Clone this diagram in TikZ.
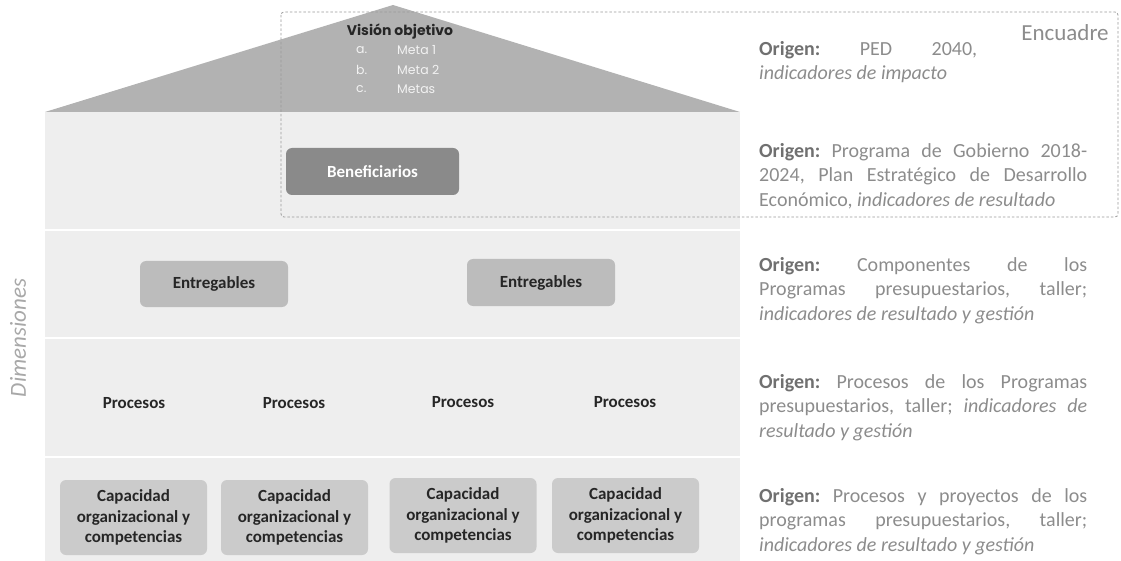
\documentclass[tikz,border=0pt]{standalone}
\usepackage{fontspec}
\setmainfont{Carlito}
\newfontfamily\pop{Poppins}
\frenchspacing
\definecolor{bandgray}{HTML}{EEEEEE}
\definecolor{trigray}{HTML}{B2B2B2}
\definecolor{benefgray}{HTML}{8A8A8A}
\definecolor{entgray}{HTML}{BCBCBC}
\definecolor{capgray}{HTML}{CBCBCB}
\definecolor{txtdark}{HTML}{262626}
\definecolor{txtgray}{HTML}{8C8C8C}
\definecolor{txtbold}{HTML}{707070}
\definecolor{dimgray}{HTML}{A8A8A8}
\definecolor{dashgray}{HTML}{9A9A9A}
\definecolor{metawhite}{HTML}{F2F2F2}
\newcommand{\orig}{\hyphenpenalty=10000\exhyphenpenalty=10000\relax\textcolor{txtbold}{\textbf{Origen:}}}
\tikzset{
  band/.style={fill=bandgray, draw=none},
  gbox/.style={rounded corners=6pt, draw=none, font=\fontsize{17}{20.7}\selectfont\bfseries, text=txtdark, align=center, inner sep=0pt},
  plain/.style={font=\fontsize{17}{20.7}\selectfont\bfseries, text=txtdark, inner sep=0pt},
  origen/.style={anchor=north west, inner sep=0pt, text width=328pt, align=justify, text=txtgray,
    font=\fontsize{20}{24.4}\selectfont},
  metatxt/.style={anchor=west, inner sep=0pt, text=metawhite, font=\pop\fontsize{12.5}{14}\selectfont}
}
\begin{document}
\begin{tikzpicture}[x=1pt,y=-1pt]
\useasboundingbox (0,0) rectangle (1121,561);
% bands
\fill[band] (45,112) rectangle (740,229);
\fill[band] (45,231) rectangle (740,337);
\fill[band] (45,339) rectangle (740,456);
\fill[band] (45,458) rectangle (740,561);
% triangle
\fill[trigray] (45,112) -- (393,5) -- (740,112) -- cycle;
% dashed frame
\draw[dashgray, line width=0.8pt, dash pattern=on 2.5pt off 2pt, rounded corners=3pt] (281,12) rectangle (1118,217);
% vision
\node[font=\pop\fontsize{14}{16}\selectfont\bfseries, text=txtdark, inner sep=0pt] (vis) at (400,32) {Visión objetivo};
\node[metatxt] (ma) at (356,50) {a.};
\node[metatxt] (mb) at (356,70) {b.};
\node[metatxt] (mc) at (356,89) {c.};
\node[metatxt] (m1) at (397,50) {Meta 1};
\node[metatxt] (m2) at (397,70) {Meta 2};
\node[metatxt] (m3) at (397,89) {Metas};
% nodes
\node[gbox, fill=benefgray, text=white, minimum width=173pt, minimum height=47pt] (ben) at (372.5,171.5) {Beneficiarios};
\node[gbox, fill=entgray, minimum width=148pt, minimum height=46pt] (ent1) at (214,284) {Entregables};
\node[gbox, fill=entgray, minimum width=148pt, minimum height=47pt] (ent2) at (541,282.5) {Entregables};
\node[plain] (p1) at (134,403) {Procesos};
\node[plain] (p2) at (294,403) {Procesos};
\node[plain] (p3) at (463,402) {Procesos};
\node[plain] (p4) at (625,402) {Procesos};
\node[gbox, fill=capgray, minimum width=147pt, minimum height=75pt] (c1) at (133.5,517.5) {Capacidad\\organizacional y\\competencias};
\node[gbox, fill=capgray, minimum width=147pt, minimum height=75pt] (c2) at (294.5,517.5) {Capacidad\\organizacional y\\competencias};
\node[gbox, fill=capgray, minimum width=147pt, minimum height=75pt] (c3) at (463,515.5) {Capacidad\\organizacional y\\competencias};
\node[gbox, fill=capgray, minimum width=147pt, minimum height=75pt] (c4) at (625.5,515.5) {Capacidad\\organizacional y\\competencias};
% side labels
\node[text=txtgray, font=\fontsize{23}{26}\selectfont, inner sep=0pt] (enc) at (1065,33) {Encuadre};
\node[text=dimgray, font=\fontsize{23}{26}\selectfont\itshape, rotate=90, inner sep=0pt] (dim) at (18,338) {Dimensiones};
% origin texts
\node[origen, text width=218pt] (o1) at (759,41) {\orig{} PED 2040,\linebreak \textit{indicadores de impacto}};
\node[origen] (o2) at (759,143) {\orig{} Programa de Gobierno 2018-\linebreak 2024, Plan Estratégico de Desarrollo\linebreak Económico, \textit{indicadores de resultado}};
\node[origen] (o3) at (759,257) {\orig{} Componentes de los\linebreak Programas presupuestarios, taller;\linebreak \textit{indicadores de resultado y gestión}};
\node[origen] (o4) at (759,374) {\orig{} Procesos de los Programas\linebreak presupuestarios, taller; \textit{indicadores de}\linebreak \textit{resultado y gestión}};
\node[origen] (o5) at (759,488) {\orig{} Procesos y proyectos de los\linebreak programas presupuestarios, taller;\linebreak \textit{indicadores de resultado y gestión}};
\end{tikzpicture}
\end{document}
